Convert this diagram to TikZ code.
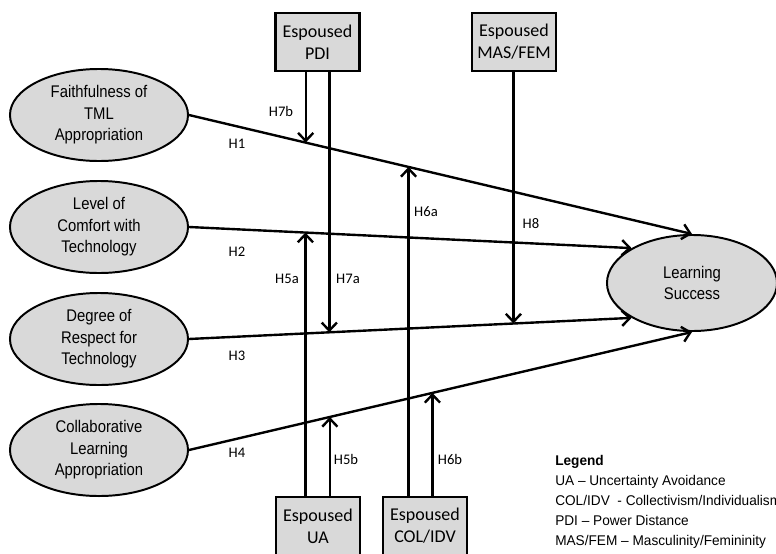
\documentclass[tikz,border=0pt]{standalone}
\usepackage{fontspec}
\setmainfont{Liberation Sans}
\newfontfamily\calibfont{Carlito}
\newfontfamily\narrowfont[FakeStretch=0.88]{Liberation Sans}
\newfontfamily\legendfont[FakeStretch=0.97]{Liberation Sans}
\usepackage{tikz}
\usetikzlibrary{arrows.meta}
\usetikzlibrary{shapes,arrows}
\definecolor{fillgray}{RGB}{217,217,217}

\begin{document}
\begin{tikzpicture}[x=0.025cm,y=-0.025cm,draw=black!100]
 	\def \colleft{99}
 	\def \rowtop{42}
 	\def \rowbot{526}
 	\tikzstyle{c-node}=[ellipse,draw=black!100,line width=1.4pt,fill=fillgray,inner sep=0pt,minimum width=4.45cm,minimum height=2.3cm,align=center,font=\narrowfont\fontsize{12}{15.3}\selectfont]
 	\tikzstyle{b-node}=[rectangle,draw=black!100,line width=1.6pt,fill=fillgray,inner sep=0pt,minimum width=2.1cm,minimum height=1.45cm,align=center,font=\calibfont\fontsize{12.8}{15.6}\selectfont]
 	\tikzstyle{h-label}=[inner sep=1pt,font=\calibfont\fontsize{10.4}{12}\selectfont]
 	\tikzstyle{link}=[line width=1.7pt,-{Straight Barb[length=2mm,width=3.8mm]}]
 	\tikzstyle{annot}=[align=left,inner sep=0pt,font=\legendfont\fontsize{10}{14.2}\selectfont]
 	\useasboundingbox (0,0) rectangle (776,553);

 	% predictors
 	\node[c-node] 	(e1)	at (\colleft,115)	{Faithfulness of\\TML\\Appropriation};
 	\node[c-node] 	(e2)	at (\colleft,227)	{Level of\\Comfort with\\Technology};
 	\node[c-node] 	(e3)	at (\colleft,339)	{Degree of\\Respect for\\Technology};
 	\node[c-node] 	(e4)	at (\colleft,450)	{Collaborative\\Learning\\Appropriation};

 	% outcome
 	\node[c-node,minimum width=4.25cm,minimum height=2.4cm] (ls) at (692,283) {Learning\\Success};

 	% espoused culture
 	\node[b-node] 	(pdi)	at (317.5,\rowtop)	{Espoused\\PDI};
 	\node[b-node] 	(mas)	at (514,\rowtop)	{Espoused\\MAS/FEM};
 	\node[b-node] 	(ua)	at (318,\rowbot)	{Espoused\\UA};
 	\node[b-node] 	(col)	at (425,\rowbot)	{Espoused\\COL/IDV};

 	% main effects
 	\draw[link] (e1.east) -- (ls.north) coordinate[pos=0.232] (t7b) coordinate[pos=0.4365] (t6a);
 	\draw[link] (e2.east) -- (ls.150) coordinate[pos=0.263] (t5a);
 	\draw[link] (e3.east) -- (ls.210) coordinate[pos=0.317] (t7a) coordinate[pos=0.733] (t8);
 	\draw[link] (e4.east) -- (ls.south) coordinate[pos=0.280] (t5b) coordinate[pos=0.484] (t6b);

 	% moderators
 	\draw[link] (t7b |- pdi.south) -- (t7b);
 	\draw[link] (t7a |- pdi.south) -- (t7a);
 	\draw[link] (t8 |- mas.south) -- (t8);
 	\draw[link] (t5a |- ua.north) -- (t5a);
 	\draw[link] (t5b |- ua.north) -- (t5b);
 	\draw[link] (t6a |- col.north) -- (t6a);
 	\draw[link] (t6b |- col.north) -- (t6b);

 	% hypothesis labels
 	\node[h-label] 	(h1)	at (237,144)	{H1};
 	\node[h-label] 	(h2)	at (237,252)	{H2};
 	\node[h-label] 	(h3)	at (237,356)	{H3};
 	\node[h-label] 	(h4)	at (237,453)	{H4};
 	\node[h-label] 	(h5a)	at (287,279)	{H5a};
 	\node[h-label] 	(h5b)	at (346,459)	{H5b};
 	\node[h-label] 	(h6a)	at (426,212)	{H6a};
 	\node[h-label] 	(h6b)	at (450,459)	{H6b};
 	\node[h-label] 	(h7a)	at (348,279)	{H7a};
 	\node[h-label] 	(h7b)	at (281,111)	{H7b};
 	\node[h-label] 	(h8)	at (531,224)	{H8};

 	% legend
 	\node[annot,anchor=north west] (legend) at (555,455) {\textbf{Legend}\\UA – Uncertainty Avoidance\\COL/IDV\ \ - Collectivism/Individualism\\PDI – Power Distance\\MAS/FEM – Masculinity/Femininity};
\end{tikzpicture}
\end{document}
